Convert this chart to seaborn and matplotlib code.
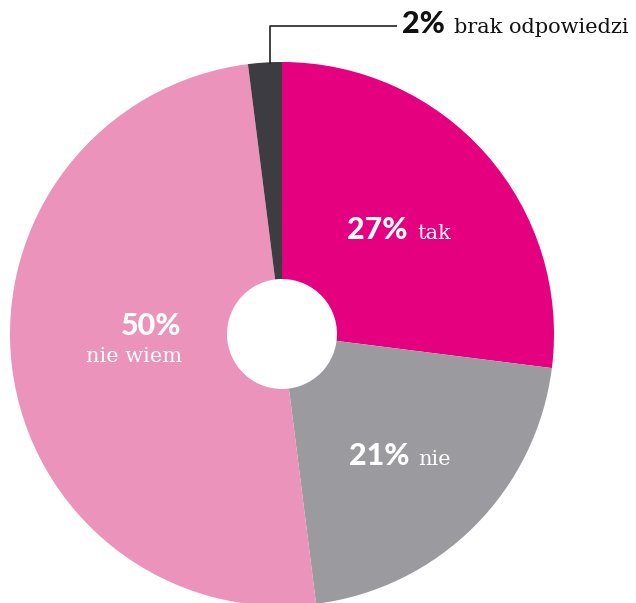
import matplotlib
matplotlib.use("Agg")
import matplotlib.pyplot as plt
import seaborn as sns

# Survey answers, clockwise from 12 o'clock
answers = ["tak", "nie", "nie wiem", "brak odpowiedzi"]
shares = [27, 21, 50, 2]
colors = ["#E4007F", "#9B9A9F", "#EC93BB", "#3E3C43"]

sns.set_theme(style="white")
plt.rcParams["font.family"] = ["DejaVu Sans"]

W, H = 636, 603
CX, CY, R = 282, 334, 272  # pie centre and radius in pixels

fig = plt.figure(figsize=(W / 100, H / 100), dpi=100)
ax = fig.add_axes([0, 0, 1, 1])

palette = sns.color_palette(colors)
ax.pie(shares, colors=palette, startangle=90, counterclock=False,
       radius=1.0, wedgeprops=dict(width=1 - 55 / R, linewidth=0))

# pie() sets its own limits, so fix the view afterwards
ax.set_xlim(-CX / R, (W - CX) / R)
ax.set_ylim(-(H - CY) / R, CY / R)
ax.set_aspect("equal")
ax.axis("off")


def px(x, y):
    """pixel position -> data coordinates"""
    return (x - CX) / R, (CY - y) / R


num_font = dict(family="Lato", fontweight="black", fontsize=22)
word_font = dict(family="DejaVu Serif", fontsize=15)

# in-slice labels
labels = [
    (f"{shares[0]}%", answers[0], (407, 239), (417, 239)),
    (f"{shares[1]}%", answers[1], (410, 465), (418, 465)),
]
for num, word, p_num, p_word in labels:
    ax.text(*px(*p_num), num, color="white", ha="right", va="baseline", **num_font)
    ax.text(*px(*p_word), word, color="white", ha="left", va="baseline", **word_font)

ax.text(*px(151, 335), f"{shares[2]}%", color="white", ha="center", va="baseline", **num_font)
ax.text(*px(134, 362), answers[2], color="white", ha="center", va="baseline", **word_font)

# leader line for the small slice
lx, ly = px(270, 64)
tx, ty = px(270, 26)
ex, _ = px(397, 26)
ax.plot([lx, tx, ex], [ly, ty, ty], color="#222222", linewidth=1.2, solid_capstyle="butt")
ax.text(*px(402, 33), f"{shares[3]}%", color="#111111", ha="left", va="baseline", **num_font)
ax.text(*px(454, 33), answers[3], color="#111111", ha="left", va="baseline", **word_font)

fig.savefig("out.png", dpi=100)
